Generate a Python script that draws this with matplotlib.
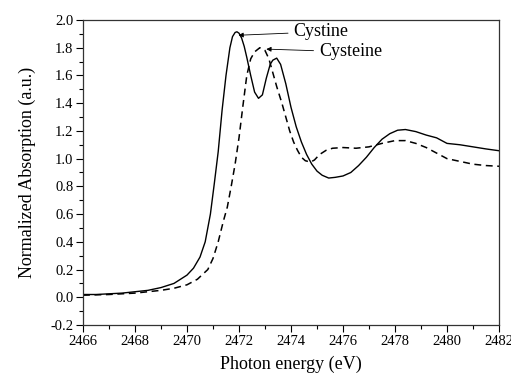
import matplotlib
matplotlib.use("Agg")
import matplotlib.pyplot as plt
from matplotlib.ticker import MultipleLocator, FormatStrFormatter

plt.rcParams['font.family'] = ['Liberation Serif', 'DejaVu Serif']

cystine_e = [2466, 2466.5, 2467, 2467.5, 2468, 2468.5, 2469, 2469.5, 2470, 2470.25,
             2470.5, 2470.7, 2470.9, 2471.05, 2471.2, 2471.35, 2471.5, 2471.65, 2471.75,
             2471.85, 2471.92, 2472.0, 2472.1, 2472.2, 2472.3, 2472.45, 2472.6, 2472.75,
             2472.9, 2473.05, 2473.2, 2473.3, 2473.45, 2473.6, 2473.8, 2474.0, 2474.2,
             2474.4, 2474.6, 2474.8, 2475.0, 2475.2, 2475.45, 2475.7, 2476.0, 2476.3,
             2476.6, 2476.9, 2477.2, 2477.5, 2477.8, 2478.1, 2478.4, 2478.8, 2479.2,
             2479.6, 2480.0, 2480.5, 2481.0, 2481.5, 2482]
cystine_a = [0.02, 0.02, 0.025, 0.03, 0.04, 0.05, 0.07, 0.10, 0.16, 0.21,
             0.29, 0.40, 0.60, 0.82, 1.05, 1.35, 1.60, 1.80, 1.88,
             1.91, 1.915, 1.905, 1.87, 1.81, 1.73, 1.60, 1.48, 1.435,
             1.46, 1.58, 1.68, 1.71, 1.725, 1.68, 1.54, 1.37, 1.23,
             1.12, 1.03, 0.96, 0.91, 0.88, 0.86, 0.865, 0.875, 0.90,
             0.95, 1.01, 1.08, 1.14, 1.18, 1.205, 1.21, 1.195, 1.17,
             1.15, 1.11, 1.10, 1.085, 1.07, 1.057]

cysteine_e = [2466, 2467, 2468, 2469, 2469.5, 2470, 2470.4, 2470.8, 2471.0, 2471.2,
              2471.4, 2471.55, 2471.7, 2471.85, 2472.0, 2472.15, 2472.3, 2472.45,
              2472.6, 2472.8, 2473.0, 2473.15, 2473.3, 2473.45, 2473.65, 2473.8,
              2473.95, 2474.1, 2474.25, 2474.4, 2474.55, 2474.75, 2474.9, 2475.1,
              2475.35, 2475.6, 2476.0, 2476.5, 2477.0, 2477.5, 2478.0, 2478.4, 2478.8,
              2479.2, 2479.6, 2480.0, 2480.5, 2481.0, 2481.5, 2482]
cysteine_a = [0.015, 0.02, 0.03, 0.05, 0.065, 0.09, 0.13, 0.20, 0.28, 0.40,
              0.55, 0.65, 0.80, 0.96, 1.15, 1.38, 1.60, 1.72,
              1.77, 1.80, 1.78, 1.72, 1.62, 1.52, 1.40, 1.30,
              1.20, 1.12, 1.06, 1.01, 0.985, 0.975, 0.99, 1.03,
              1.06, 1.075, 1.08, 1.075, 1.085, 1.11, 1.13, 1.13, 1.11,
              1.08, 1.04, 1.00, 0.98, 0.96, 0.95, 0.945]

labels = ["Cystine", "Cysteine"]

fig = plt.figure(figsize=(5.11, 3.78), dpi=100)
ax = fig.add_axes([83/511, 1-325/378, (499-83)/511, (325-20)/378])

ax.plot(cystine_e, cystine_a, color='black', lw=1.0, ls='-')
ax.plot(cysteine_e, cysteine_a, color='black', lw=1.1, ls=(0, (4.5, 3)))

ax.set_xlim(2466, 2482)
ax.set_ylim(-0.2, 2.0)
ax.xaxis.set_major_locator(MultipleLocator(2))
ax.xaxis.set_minor_locator(MultipleLocator(1))
ax.yaxis.set_major_locator(MultipleLocator(0.2))
ax.yaxis.set_minor_locator(MultipleLocator(0.1))
ax.yaxis.set_major_formatter(FormatStrFormatter('%.1f'))
ax.tick_params(which='major', direction='out', length=5, width=0.8, labelsize=10.5, pad=2)
ax.tick_params(which='minor', direction='out', length=3, width=0.8)
for s in ax.spines.values():
    s.set_linewidth(0.9)
    s.set_color('#333333')

ax.set_xlabel("Photon energy (eV)", fontsize=13, labelpad=6)
ax.set_ylabel("Normalized Absorption (a.u.)", fontsize=13, labelpad=10)

ax.annotate(labels[0], xy=(2471.98, 1.89), xytext=(2474.1, 1.915),
            fontsize=13, va='center', ha='left',
            arrowprops=dict(arrowstyle='-|>', color='black', lw=0.6,
                            mutation_scale=7, shrinkA=2, shrinkB=0))
ax.annotate(labels[1], xy=(2473.05, 1.79), xytext=(2475.08, 1.77),
            fontsize=13, va='center', ha='left',
            arrowprops=dict(arrowstyle='-|>', color='black', lw=0.6,
                            mutation_scale=7, shrinkA=2, shrinkB=0))

fig.savefig("out.png", dpi=100)
